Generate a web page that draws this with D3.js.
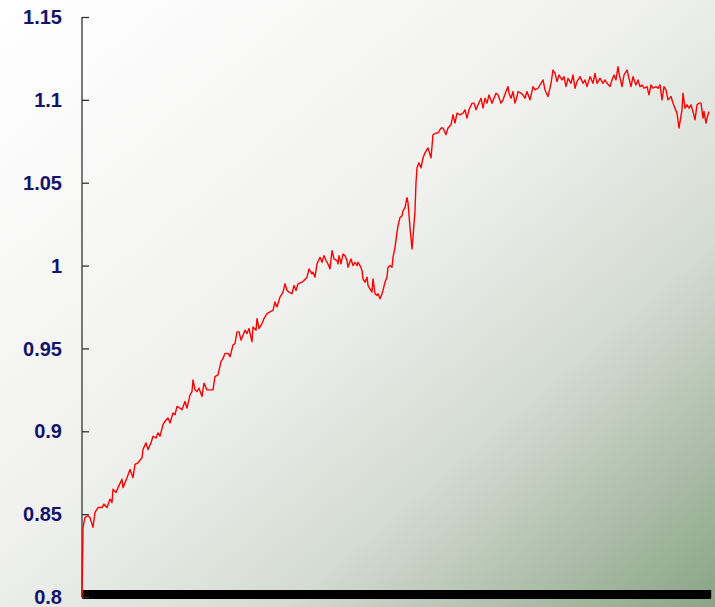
<!DOCTYPE html>
<html><head><meta charset="utf-8">
<script src="https://cdn.jsdelivr.net/npm/d3@7"></script>
<style>html,body{margin:0;padding:0;overflow:hidden;}</style>
</head><body>
<script>
const steps = [0,1,3,6,8,11,13,16,20,22,25,28,30,31,34,36,40,41,45,48,51,53,56,60,61,64,66,69,71,74,76,78,81,83,86,88,91,93,95,98,100,103,105,108,110,111,113,115,117,120,122,125,128,131,133,136,139,141,143,146,148,151,153,155,157,159,161,163,165,167,170,171,174,175,177,180,182,185,188,191,193,195,198,201,203,205,207,210,212,214,216,220,222,225,227,230,231,233,235,238,240,242,244,246,248,250,252,255,256,257,259,261,263,265,266,269,271,273,275,276,278,280,281,283,285,286,288,290,291,293,295,296,298,300,301,303,305,306,308,310,311,313,315,316,318,320,321,323,325,326,328,330,331,333,334,335,337,339,341,343,346,349,351,354,356,359,361,364,366,369,371,373,375,378,381,383,385,387,390,392,394,396,399,401,403,405,407,410,412,414,416,419,421,424,426,427,429,431,433,435,436,439,441,443,445,448,451,453,456,459,461,463,466,469,471,473,475,477,480,482,484,486,489,491,493,495,498,501,503,505,508,511,513,515,518,521,523,525,528,530,532,534,536,537,540,542,545,547,549,551,554,556,558,560,562,565,567,569,571,574,576,578,580,582,584,586,589,591,593,595,597,600,601,603,605,607,609,611,613,615,617,619,621,622,624,625,627];
const values = [0.800,0.842,0.848,0.849,0.848,0.842,0.851,0.854,0.854,0.856,0.854,0.859,0.857,0.865,0.863,0.866,0.871,0.866,0.872,0.877,0.872,0.880,0.881,0.884,0.889,0.893,0.889,0.893,0.897,0.896,0.899,0.897,0.904,0.906,0.908,0.905,0.911,0.910,0.915,0.914,0.913,0.918,0.914,0.922,0.924,0.931,0.925,0.924,0.926,0.921,0.929,0.925,0.925,0.925,0.933,0.934,0.942,0.944,0.947,0.947,0.945,0.952,0.953,0.960,0.960,0.955,0.958,0.961,0.959,0.962,0.954,0.963,0.961,0.968,0.962,0.965,0.968,0.971,0.972,0.973,0.978,0.975,0.981,0.984,0.989,0.985,0.984,0.983,0.988,0.985,0.989,0.990,0.991,0.993,0.998,0.995,0.996,0.993,1.001,1.005,1.002,1.006,1.003,1.001,0.998,1.009,1.004,1.003,1.001,1.006,1.001,1.007,1.006,1.003,0.999,1.004,1.000,1.002,1.000,1.002,1.000,0.997,0.992,0.990,0.993,0.988,0.986,0.984,0.992,0.983,0.982,0.983,0.980,0.983,0.985,0.990,0.993,0.999,1.000,0.999,1.005,1.011,1.020,1.024,1.029,1.030,1.033,1.035,1.041,1.038,1.023,1.010,1.017,1.033,1.050,1.059,1.062,1.059,1.065,1.068,1.071,1.065,1.079,1.080,1.080,1.083,1.083,1.079,1.083,1.085,1.091,1.086,1.092,1.091,1.092,1.094,1.089,1.094,1.098,1.098,1.094,1.097,1.101,1.095,1.101,1.098,1.103,1.098,1.101,1.104,1.103,1.098,1.100,1.105,1.108,1.104,1.101,1.105,1.098,1.102,1.105,1.104,1.103,1.101,1.105,1.100,1.108,1.106,1.107,1.110,1.112,1.106,1.102,1.110,1.118,1.116,1.111,1.115,1.112,1.114,1.108,1.113,1.110,1.115,1.107,1.111,1.114,1.110,1.112,1.108,1.114,1.110,1.116,1.110,1.113,1.110,1.112,1.110,1.108,1.112,1.115,1.112,1.120,1.116,1.108,1.115,1.118,1.113,1.108,1.114,1.109,1.112,1.108,1.109,1.107,1.108,1.103,1.109,1.107,1.108,1.107,1.109,1.100,1.108,1.106,1.100,1.102,1.098,1.095,1.092,1.083,1.094,1.104,1.095,1.097,1.095,1.097,1.093,1.088,1.097,1.098,1.098,1.089,1.093,1.086,1.089,1.093];
const yTicks = [0.8,0.85,0.9,0.95,1,1.05,1.1,1.15];
const yTickLabels = ["0.8","0.85","0.9","0.95","1","1.05","1.1","1.15"];
const xDomainMax = 628;

const W = 715, H = 607;
const svg = d3.select("body").append("svg").attr("width", W).attr("height", H);
const defs = svg.append("defs");
const grad = defs.append("linearGradient").attr("id","bg").attr("x1","0").attr("y1","0").attr("x2","1").attr("y2","1");
grad.append("stop").attr("offset","0").attr("stop-color","#ffffff");
grad.append("stop").attr("offset","0.45").attr("stop-color","#f0f1ef");
grad.append("stop").attr("offset","0.7").attr("stop-color","#d4dbd2");
grad.append("stop").attr("offset","1").attr("stop-color","#8aa486");
svg.append("rect").attr("width", W).attr("height", H).attr("fill","url(#bg)");

const mLeft = 82, mRight = 710, mTop = 17, mBottom = 597;
const x = d3.scaleLinear().domain([0, xDomainMax]).range([mLeft, mRight]);
const y = d3.scaleLinear().domain([0.8, 1.15]).range([mBottom, mTop]);

// dense x axis band
const xAxis = d3.axisTop(x).tickValues(d3.range(0, xDomainMax + 1, 1)).tickSize(8).tickFormat("");
const gx = svg.append("g").attr("transform", `translate(0,${mBottom + 1})`).call(xAxis);
gx.selectAll("line").attr("stroke","#000").attr("stroke-width",1.4);
gx.select(".domain").attr("stroke","#000").attr("stroke-width",1);

// y axis
const yAxis = d3.axisRight(y).tickValues(yTicks).tickSize(7).tickFormat("");
const gy = svg.append("g").attr("transform", `translate(${mLeft},0)`).call(yAxis);
gy.select(".domain").attr("stroke","#333").attr("stroke-width",1.3).attr("d", `M0,${mTop}V${mBottom}`);
gy.selectAll("line").attr("stroke","#333").attr("stroke-width",1.3);

svg.append("g").selectAll("text").data(yTicks).join("text")
  .attr("x", 62).attr("y", d => y(d)).attr("dy","0.36em")
  .attr("text-anchor","end")
  .attr("font-family","Liberation Sans, Arial, sans-serif")
  .attr("font-weight","bold").attr("font-size", 20)
  .attr("fill","#13136b")
  .text((d,i) => yTickLabels[i]);

const line = d3.line().x((d,i) => x(steps[i])).y(d => y(d));
svg.append("path").datum(values).attr("d", line)
  .attr("fill","none").attr("stroke","#ff0000").attr("stroke-width",1.4).attr("stroke-linejoin","round");
</script>
</body></html>
